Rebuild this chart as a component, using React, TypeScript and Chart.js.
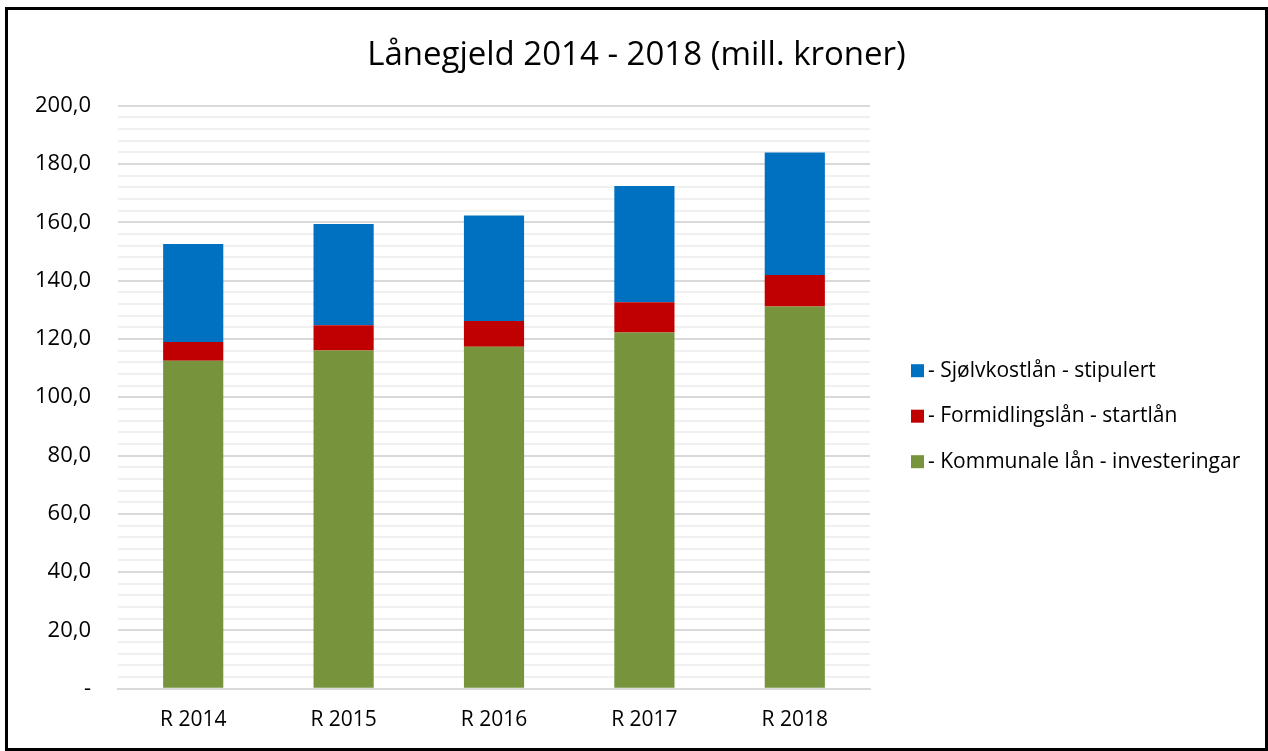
import React, { useEffect, useRef } from "react";
import { Chart, registerables } from "chart.js";

Chart.register(...registerables);

const categories = ["R 2014", "R 2015", "R 2016", "R 2017", "R 2018"];
const kommunale = [112.5, 116.0, 117.3, 122.2, 131.1];
const formidling = [6.4, 8.7, 8.8, 10.4, 10.8];
const sjolvkost = [33.6, 34.7, 36.2, 39.8, 42.0];

const seriesLabels = [
  "- Kommunale lån - investeringar",
  "- Formidlingslån - startlån",
  "- Sjølvkostlån - stipulert",
];
const seriesColors = ["#77933C", "#C00000", "#0070C0"];
const titleText = "Lånegjeld 2014 - 2018 (mill. kroner)";
const FONT = "'Open Sans', sans-serif";

const sideLegend = {
  id: "sideLegend",
  afterDraw(chart: any) {
    const { ctx, chartArea } = chart;
    const items = chart.data.datasets.slice().reverse();
    const x0 = chartArea.right + 41;
    const cy = (chartArea.top + chartArea.bottom) / 2 + 19;
    const gap = 45.5;
    ctx.save();
    ctx.font = `21px ${FONT}`;
    ctx.textBaseline = "middle";
    ctx.textAlign = "left";
    items.forEach((d: any, i: number) => {
      const y = cy + (i - 1) * gap;
      ctx.fillStyle = d.backgroundColor;
      ctx.fillRect(x0, y - 6.5, 13, 13);
      ctx.fillStyle = "#000";
      ctx.fillText(d.label, x0 + 17, y);
    });
    ctx.restore();
  },
};

export default function App() {
  const ref = useRef<HTMLCanvasElement | null>(null);

  useEffect(() => {
    if (!ref.current) return;
    const chart = new Chart(ref.current, {
      type: "bar",
      data: {
        labels: categories,
        datasets: [kommunale, formidling, sjolvkost].map((d, i) => ({
          label: seriesLabels[i],
          data: d,
          backgroundColor: seriesColors[i],
          borderWidth: 0,
          barPercentage: 0.4,
          categoryPercentage: 1,
          yAxisID: "y",
        })),
      },
      options: {
        animation: false,
        responsive: true,
        maintainAspectRatio: false,
        layout: { padding: { left: 0, right: 0, top: 0, bottom: -4 } },
        plugins: {
          title: {
            display: true,
            text: titleText,
            color: "#000",
            font: { family: FONT, size: 33, weight: "normal" },
            padding: { top: 26, bottom: 30 },
          },
          legend: { display: false },
          tooltip: { enabled: false },
        },
        scales: {
          x: {
            stacked: true,
            grid: { display: false, drawTicks: false },
            border: { display: true, color: "#d9d9d9", width: 2 },
            ticks: { color: "#000", font: { family: FONT, size: 21 }, padding: 19 },
          },
          y: {
            stacked: true,
            min: 0,
            max: 200,
            border: { display: false },
            grid: {
              drawTicks: false,
              color: (ctx: any) => (ctx.tick && ctx.tick.value % 20 === 0 ? "#d9d9d9" : "#f0f0f0"),
              lineWidth: 2,
            },
            ticks: {
              stepSize: 4,
              autoSkip: false,
              color: "#000",
              padding: 27,
              font: { family: FONT, size: 22 },
              callback: (v: any) => {
                const n = Number(v);
                if (n % 20 !== 0) return "";
                if (n === 0) return "-";
                return n.toFixed(1).replace(".", ",");
              },
            },
          },
          legendSpace: {
            type: "linear",
            position: "right",
            display: true,
            grid: { display: false, drawTicks: false },
            border: { display: false },
            ticks: { display: false },
            afterFit: (s: any) => {
              s.width = 395;
            },
          },
        },
      } as any,
      plugins: [sideLegend],
    });
    return () => chart.destroy();
  }, []);

  return (
    <div
      style={{
        position: "absolute",
        left: 5,
        top: 7,
        width: 1263,
        height: 744,
        border: "3px solid #000",
        boxSizing: "border-box",
        background: "#fff",
      }}
    >
      <div style={{ position: "relative", width: 1257, height: 738 }}>
        <canvas ref={ref} />
      </div>
    </div>
  );
}
